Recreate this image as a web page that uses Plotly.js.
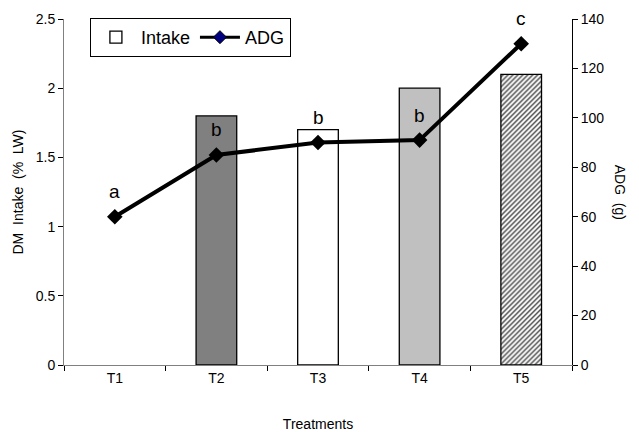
<!DOCTYPE html>
<html><head><meta charset="utf-8">
<script src="https://cdn.plot.ly/plotly-3.0.1.min.js"></script>
<style>body{margin:0;background:#fff}#c{width:639px;height:432px}</style>
</head><body><div id="c"></div>
<script>
const categories = ["T1","T2","T3","T4","T5"];
const intake = [null, 1.8, 1.7, 2.0, 2.1];
const adg = [60, 85, 90, 91, 130];
const letters = ["a","b","b","b","c"];
const barColors = ["#ffffff","#808080","#ffffff","#c0c0c0","#ffffff"];
const barPatterns = ["","","","","/"];

const font = {family:"Liberation Sans, Arial, sans-serif", color:"#000"};

const traces = [
  {type:"bar", name:"Intake", x:categories, y:intake, width:0.4,
   marker:{color:barColors, line:{color:"#000", width:1.3},
     pattern:{shape:barPatterns, fillmode:"overlay", fgcolor:"#000", fgopacity:1, size:3.5, solidity:0.4}},
   yaxis:"y"},
  {type:"scatter", mode:"lines+markers", name:"ADG", x:categories, y:adg, yaxis:"y2",
   line:{color:"#000", width:4}, marker:{symbol:"diamond", size:12, color:"#000"}, showlegend:false},
  {type:"scatter", mode:"lines+markers", name:"ADG", x:[categories[0]], y:[null], yaxis:"y2",
   line:{color:"#000", width:3}, marker:{symbol:"diamond", size:10, color:"#000080", line:{color:"#000", width:1}}}
];

const annotations = letters.map((t,i)=>({x:categories[i], y:adg[i], xref:"x", yref:"y2", text:t,
  showarrow:false, yshift:25, font:{...font, size:19}}));
annotations.push({xref:"paper", yref:"paper", x:1.095, y:0.5, text:"ADG  (g)", textangle:90, showarrow:false,
  font:{...font, size:14}, xanchor:"center", yanchor:"middle"});

const layout = {
  width:639, height:432, margin:{l:64, r:67, t:19, b:67},
  paper_bgcolor:"#fff", plot_bgcolor:"#fff", font:{...font, size:14},
  showlegend:true,
  legend:{orientation:"h", x:0.051, xanchor:"left", y:1.003, yanchor:"top",
    bordercolor:"#000", borderwidth:1, bgcolor:"#fff", font:{...font, size:18},
    itemwidth:40, tracegroupgap:0},
  xaxis:{type:"category", tickson:"boundaries", ticks:"outside", ticklen:5, tickcolor:"#000",
    showline:true, linecolor:"#808080", linewidth:1, tickfont:{...font, size:14},
    title:{text:"Treatments", font:{...font, size:14}, standoff:38}, range:[-0.5,4.5]},
  yaxis:{range:[0,2.5], dtick:0.5, ticks:"outside", ticklen:5, tickcolor:"#000",
    showline:true, linecolor:"#808080", showgrid:false, zeroline:false, tickfont:{...font, size:14},
    title:{text:"DM  Intake  (%  LW)", font:{...font, size:14}, standoff:8}},
  yaxis2:{range:[0,140], dtick:20, overlaying:"y", side:"right", ticks:"outside", ticklen:5, tickcolor:"#000",
    showline:true, linecolor:"#000", showgrid:false, zeroline:false, tickfont:{...font, size:14}},
  annotations:annotations,
  bargap:0.6
};
Plotly.newPlot("c", traces, layout, {displayModeBar:false});
</script></body></html>
